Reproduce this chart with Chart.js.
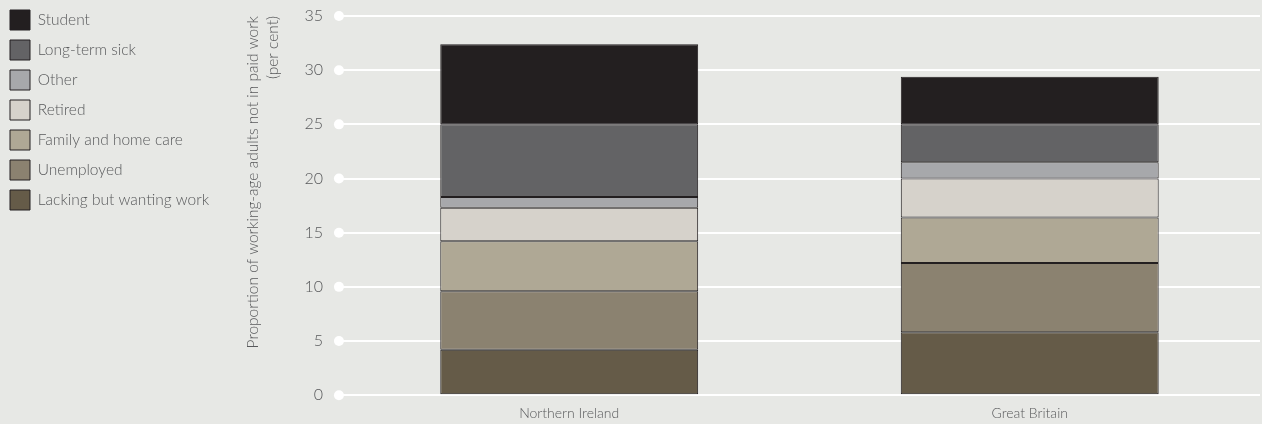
<!DOCTYPE html>
<html>
<head>
<meta charset="utf-8">
<script src="https://cdn.jsdelivr.net/npm/chart.js@4"></script>
<style>
  html, body { margin: 0; padding: 0; background: #e7e8e5; }
  #wrap { width: 1262px; height: 424px; }
</style>
</head>
<body>
<div id="wrap"><canvas id="chart" width="1262" height="424"></canvas></div>
<script>
// categories and series (per cent of working-age adults not in paid work)
const regions = ['Northern Ireland', 'Great Britain'];
const lacking = [4.2, 5.8];
const unemployed = [5.4, 6.4];
const familyCare = [4.6, 4.2];
const retired = [3.1, 3.6];
const other = [1.0, 1.5];
const longTermSick = [6.7, 3.5];
const student = [7.4, 4.4];
const yTicks = [0, 5, 10, 15, 20, 25, 30, 35];

const textColor = '#58595b';
const edge = '#231f20';

function series(label, data, color) {
  return { label, data, backgroundColor: color, borderColor: edge, borderWidth: 1, borderSkipped: false };
}

// white dots where each gridline starts
const gridDots = {
  id: 'gridDots',
  beforeDatasetsDraw(chart) {
    const { ctx, chartArea, scales } = chart;
    ctx.save();
    ctx.fillStyle = '#ffffff';
    yTicks.forEach(v => {
      const y = scales.y.getPixelForValue(v);
      ctx.beginPath();
      ctx.arc(chartArea.left, y, 5, 0, Math.PI * 2);
      ctx.fill();
    });
    ctx.restore();
  }
};

new Chart(document.getElementById('chart'), {
  type: 'bar',
  data: {
    labels: regions,
    datasets: [
      series('Lacking but wanting work', lacking, '#655b48'),
      series('Unemployed', unemployed, '#8b8270'),
      series('Family and home care', familyCare, '#afa895'),
      series('Retired', retired, '#d6d2cb'),
      series('Other', other, '#a7a8ab'),
      series('Long-term sick', longTermSick, '#636365'),
      series('Student', student, '#231f20'),
    ]
  },
  options: {
    responsive: false,
    animation: false,
    layout: { padding: { top: 0, right: 2, bottom: 0, left: 0 } },
    datasets: { bar: { barPercentage: 0.56, categoryPercentage: 1 } },
    plugins: {
      legend: {
        position: 'left',
        align: 'start',
        reverse: true,
        labels: {
          boxWidth: 20,
          boxHeight: 20,
          padding: 10,
          color: textColor,
          font: { family: 'Lato', size: 15.5, weight: 300 }
        }
      },
      tooltip: { enabled: false }
    },
    scales: {
      x: {
        stacked: true,
        grid: { display: false },
        border: { display: false },
        ticks: { color: textColor, font: { family: 'Lato', size: 14, weight: 300 }, padding: 2 }
      },
      y: {
        stacked: true,
        min: 0,
        max: 35,
        afterBuildTicks: s => { s.ticks = yTicks.map(v => ({ value: v })); },
        afterFit: s => { s.paddingTop = 16; s.paddingBottom = 0; },
        grid: { color: '#ffffff', lineWidth: 2, drawTicks: false },
        border: { display: false },
        ticks: { color: textColor, font: { family: 'Lato', size: 16, weight: 300 }, padding: 16 },
        title: {
          display: true,
          align: 'end',
          text: ['Proportion of working-age adults not in paid work', '(per cent)'],
          color: textColor,
          font: { family: 'Lato', size: 15.5, weight: 300, lineHeight: 1.3 },
          padding: { top: 24, bottom: 5 }
        }
      }
    }
  },
  plugins: [gridDots]
});
</script>
</body>
</html>
